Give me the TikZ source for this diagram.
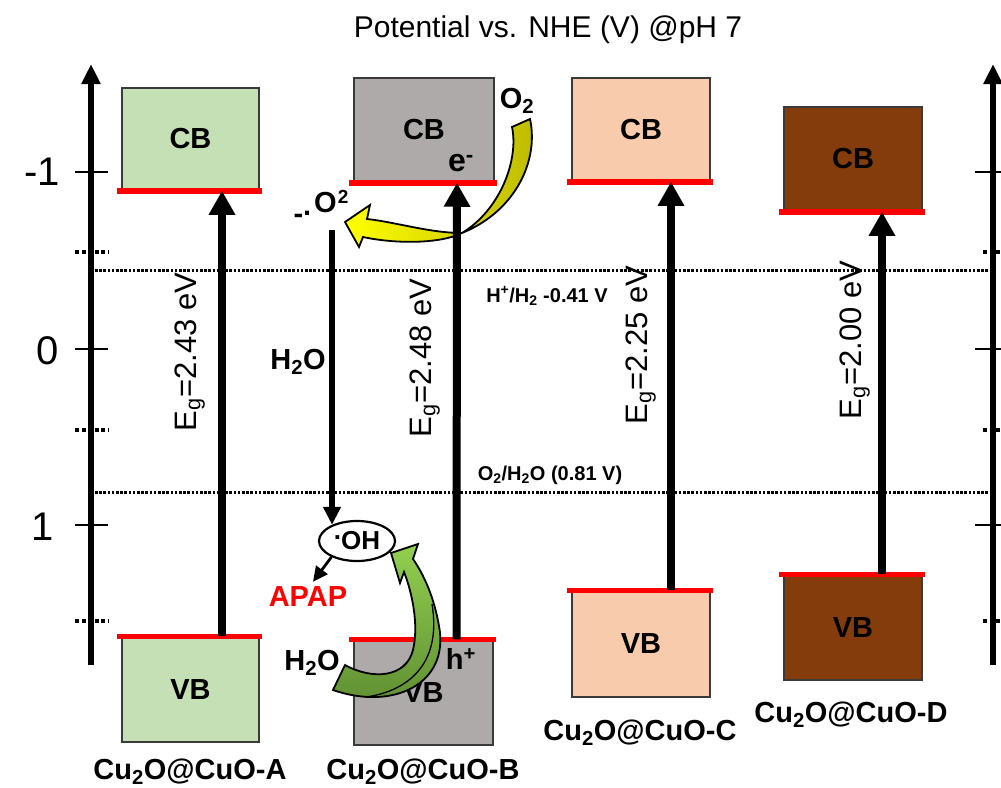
\documentclass[tikz,border=0pt]{standalone}
\usepackage{fontspec}
\setmainfont{Liberation Sans}
\usetikzlibrary{arrows.meta,shapes.geometric,calc}
\definecolor{boxA}{HTML}{C5E0B4}
\definecolor{boxB}{HTML}{AEAAAA}
\definecolor{boxC}{HTML}{F8CBAD}
\definecolor{boxD}{HTML}{843C0C}
\definecolor{edgegray}{HTML}{3A3A3A}
\definecolor{yelA}{HTML}{FFFF00}
\definecolor{yelB}{HTML}{BDBA00}
\definecolor{grnA}{HTML}{92D050}
\definecolor{grnB}{HTML}{5E8C31}
\newcommand{\fsz}[1]{\fontsize{#1}{#1}\selectfont}
\begin{document}
\begin{tikzpicture}[x=1pt,y=-1pt,
  bandbox/.style={draw=edgegray, line width=1.5pt, minimum width=138pt, minimum height=104pt, inner sep=0pt, font=\fsz{29}\bfseries},
  redline/.style={draw=red, line width=5.5pt},
  gaparrow/.style={line width=8pt, -{Triangle[width=25pt,length=24pt]}},
  axisline/.style={line width=5.5pt, -{Triangle[width=18pt,length=20pt]}},
  tickline/.style={line width=2.8pt},
  dottick/.style={line width=4.5pt, dash pattern=on 4pt off 2.5pt},
  levelline/.style={line width=3pt, dash pattern=on 2.6pt off 1.6pt},
  lbl/.style={font=\fsz{29}\bfseries, inner sep=0pt},
  eglbl/.style={font=\fsz{31}, rotate=90, inner sep=0pt},
  axlbl/.style={font=\fsz{40}, inner sep=0pt, anchor=east},
  downarrow/.style={line width=5.5pt, -{Triangle[width=17pt,length=18pt]}},
  smallarrow/.style={line width=2.8pt, -{Triangle[width=14pt,length=15pt]}},
  bandout/.style={draw=black, line width=1.8pt}
]
\useasboundingbox (0,0) rectangle (1001,787);
\fill[white] (0,0) rectangle (1001,787);

% title
\node[font=\fsz{30}, inner sep=0pt] (title) at (548,30) {Potential vs. NHE (V) @pH 7};

% level lines
\draw[levelline] (95,270) -- (990,270);
\draw[levelline] (95,492) -- (990,492);

% axes
\draw[axisline] (91,665) -- (91,64);
\draw[axisline] (993,665) -- (993,64);
\foreach \yy in {172,349,525} {
  \draw[tickline] (75,\yy) -- (108,\yy);
  \draw[tickline] (975,\yy) -- (1001,\yy);
}
\foreach \yy in {252,430,621} {
  \draw[dottick] (75,\yy) -- (108,\yy);
  \draw[dottick] (983,\yy) -- (1001,\yy);
}
\node[axlbl] (lm1) at (60,172) {-1};
\node[axlbl] (l0) at (59,351) {0};
\node[axlbl] (l1) at (54,527) {1};

% boxes
\node[bandbox, fill=boxA, minimum width=137pt, minimum height=102pt] (Acb) at (190.5,139) {CB};
\node[bandbox, fill=boxA, minimum width=137pt, minimum height=105pt] (Avb) at (190.5,689.5) {VB};
\node[bandbox, fill=boxB, minimum width=140pt] (Bcb) at (424,130) {CB};
\node[bandbox, fill=boxB, minimum width=139pt, minimum height=105pt] (Bvb) at (423.5,692.5) {VB};
\node[bandbox, fill=boxC, minimum height=103pt] (Ccb) at (641,129.5) {CB};
\node[bandbox, fill=boxC, minimum height=106pt] (Cvb) at (641,644) {VB};
\node[bandbox, fill=boxD] (Dcb) at (853,159) {CB};
\node[bandbox, fill=boxD, minimum height=105pt] (Dvb) at (853,627.5) {VB};

% red band edges
\foreach \b in {Acb,Bcb,Ccb,Dcb} {
  \draw[redline] ([xshift=-4pt]\b.south west) -- ([xshift=2pt]\b.south east);
}
\foreach \b in {Avb,Bvb,Cvb,Dvb} {
  \draw[redline] ([xshift=-4pt]\b.north west) -- ([xshift=2pt]\b.north east);
}

% yellow curved arrow (O2 -> superoxide)
\draw[bandout, left color=yelA, right color=yelB]
 (530,119) .. controls (539,160) and (516,211) .. (462,233)
 .. controls (430,233) and (395,222) .. (367,219)
 -- (370,205) -- (345,222) -- (359,247) -- (363,237)
 .. controls (395,244) and (440,244) .. (462,233)
 .. controls (500,210) and (519,160) .. (512,127) -- cycle;

% green curved arrow (H2O -> OH)
\draw[bandout, top color=grnA, bottom color=grnB]
 (333,690) .. controls (393,711) and (450,684) .. (439,626)
 .. controls (434,597) and (424,575) .. (413,559)
 -- (418,544) -- (391,553) -- (400,583) -- (404,572)
 .. controls (412,592) and (419,625) .. (413,650)
 .. controls (406,678) and (372,680) .. (345,665) -- cycle;
\draw[line width=1.3pt] (366,697) .. controls (408,691) and (442,664) .. (432,604);

% band-gap arrows
\draw[gaparrow] ([xshift=31.5pt]Avb.north) -- ([xshift=31.5pt]Acb.south);
\draw[gaparrow] ([xshift=33pt]Bvb.north) -- ([xshift=33pt]Bcb.south);
\draw[gaparrow] ([xshift=30pt]Cvb.north) -- ([xshift=30pt]Ccb.south);
\draw[gaparrow] ([xshift=29pt]Dvb.north) -- ([xshift=29pt]Dcb.south);

\node[eglbl] (egA) at (190,352) {E\textsubscript{g}=2.43 eV};
\node[eglbl] (egB) at (425,358) {E\textsubscript{g}=2.48 eV};
\node[eglbl] (egC) at (641,345) {E\textsubscript{g}=2.25 eV};
\node[eglbl] (egD) at (855,340) {E\textsubscript{g}=2.00 eV};

% level labels
\node[font=\fsz{20}\bfseries, inner sep=0pt] (hh) at (547,296) {H\textsuperscript{+}/H\textsubscript{2} -0.41 V};
\node[font=\fsz{20}\bfseries, inner sep=0pt] (oo) at (550,475) {O\textsubscript{2}/H\textsubscript{2}O (0.81 V)};

% sample labels
\node[lbl, anchor=base] (nA) at (190,779) {Cu\textsubscript{2}O@CuO-A};
\node[lbl, anchor=base] (nB) at (423,779) {Cu\textsubscript{2}O@CuO-B};
\node[lbl, anchor=base] (nC) at (640,740) {Cu\textsubscript{2}O@CuO-C};
\node[lbl, anchor=base] (nD) at (851,722) {Cu\textsubscript{2}O@CuO-D};

% species
\node[lbl] (O2) at (517,101) {O\textsubscript{2}};
\node[lbl, font=\fsz{32}\bfseries] (em) at (461,163) {e\textsuperscript{-}};
\node[lbl] (hp) at (461,659) {h\textsuperscript{+}};
\node[lbl] (h2oA) at (298,362) {H\textsubscript{2}O};
\node[lbl] (h2oB) at (312,663) {H\textsubscript{2}O};
\node[lbl, text=red] (apap) at (308,597) {APAP};
\node[font=\fsz{29}\bfseries, inner sep=0pt] (sup) at (321,207) {\raisebox{-0.4em}{-}\raisebox{-0.1em}{.}\hspace{0.1em}O\hspace{0.04em}\raisebox{0.3em}{\fsz{19}2}};
\node[ellipse, draw, line width=2.2pt, minimum width=76pt, minimum height=40pt, inner sep=1pt, font=\fsz{26}\bfseries] (oh) at (357,541) {\raisebox{0.4em}{.}OH};

\draw[downarrow] ($(sup.south -| oh.147)+(0,6)$) -- (oh.147);
\draw[smallarrow] (oh.212) -- ([xshift=5pt,yshift=5pt]apap.north);
\end{tikzpicture}
\end{document}
